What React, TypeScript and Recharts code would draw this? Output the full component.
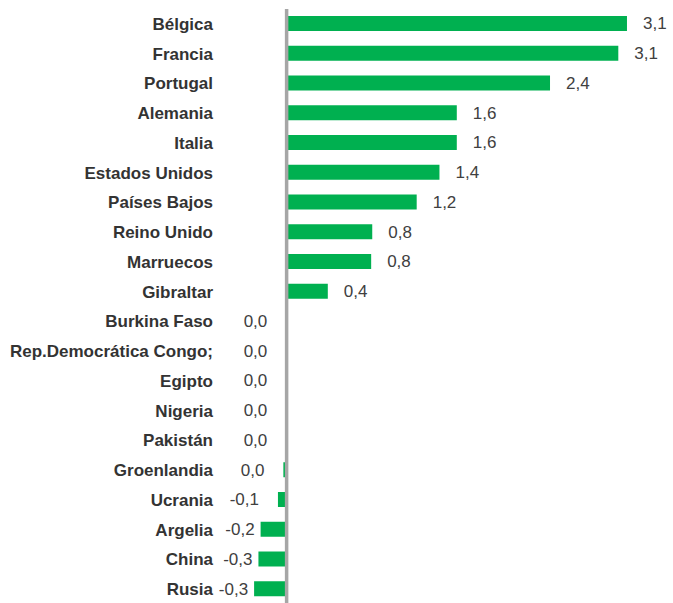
import { BarChart, Bar, XAxis, YAxis, ReferenceLine, LabelList } from "recharts";

const countries = [
  "Bélgica",
  "Francia",
  "Portugal",
  "Alemania",
  "Italia",
  "Estados Unidos",
  "Países Bajos",
  "Reino Unido",
  "Marruecos",
  "Gibraltar",
  "Burkina Faso",
  "Rep.Democrática Congo;",
  "Egipto",
  "Nigeria",
  "Pakistán",
  "Groenlandia",
  "Ucrania",
  "Argelia",
  "China",
  "Rusia",
];

// tiny negatives for the "0,0" rows: their labels sit left of the axis
const values = [
  3.14, 3.06, 2.43, 1.57, 1.57, 1.41, 1.2, 0.79, 0.78, 0.38,
  -0.003, -0.003, -0.003, -0.003, -0.003, -0.03, -0.08, -0.24, -0.26, -0.3,
];

const data = countries.map((name, i) => ({ name, value: values[i] }));

const fmt = (v: number) => {
  if (Math.abs(v) < 0.05) return "0,0";
  return v.toFixed(1).replace(".", ",");
};

const FONT = "'Liberation Sans', Arial, sans-serif";

const ValueLabel = (props: any) => {
  const { x, y, width, height, value } = props;
  const v = Number(value);
  const cy = y + height / 2;
  if (v >= 0) {
    return (
      <text x={x + width + 16} y={cy} dy="0.35em" textAnchor="start" fill="#404040" fontSize={17} fontFamily={FONT}>
        {fmt(v)}
      </text>
    );
  }
  // negative bars: x + width is the left end
  const left = Math.min(x, x + width);
  const off = v > -0.15 ? 19 : 6;
  return (
    <text x={left - off} y={cy} dy="0.35em" textAnchor="end" fill="#404040" fontSize={17} fontFamily={FONT}>
      {fmt(v)}
    </text>
  );
};

export default function App() {
  return (
    <div style={{ position: "absolute", left: 0, top: 0, background: "#fff" }}>
      <BarChart
        width={673}
        height={620}
        data={data}
        layout="vertical"
        margin={{ top: 9, right: 7, left: 0, bottom: 16 }}
        barCategoryGap="50%"
      >
        <XAxis type="number" domain={[-0.55, 3.5]} hide />
        <YAxis
          type="category"
          dataKey="name"
          width={227}
          axisLine={false}
          tickLine={false}
          tickMargin={8}
          interval={0}
          tick={{ fill: "#333333", fontSize: 17, fontWeight: 700, fontFamily: FONT }}
        />
        <Bar dataKey="value" fill="#00b050" barSize={15} isAnimationActive={false}>
          <LabelList dataKey="value" content={<ValueLabel />} />
        </Bar>
        <ReferenceLine x={0} stroke="#a6a6a6" strokeWidth={3.5} />
      </BarChart>
    </div>
  );
}
